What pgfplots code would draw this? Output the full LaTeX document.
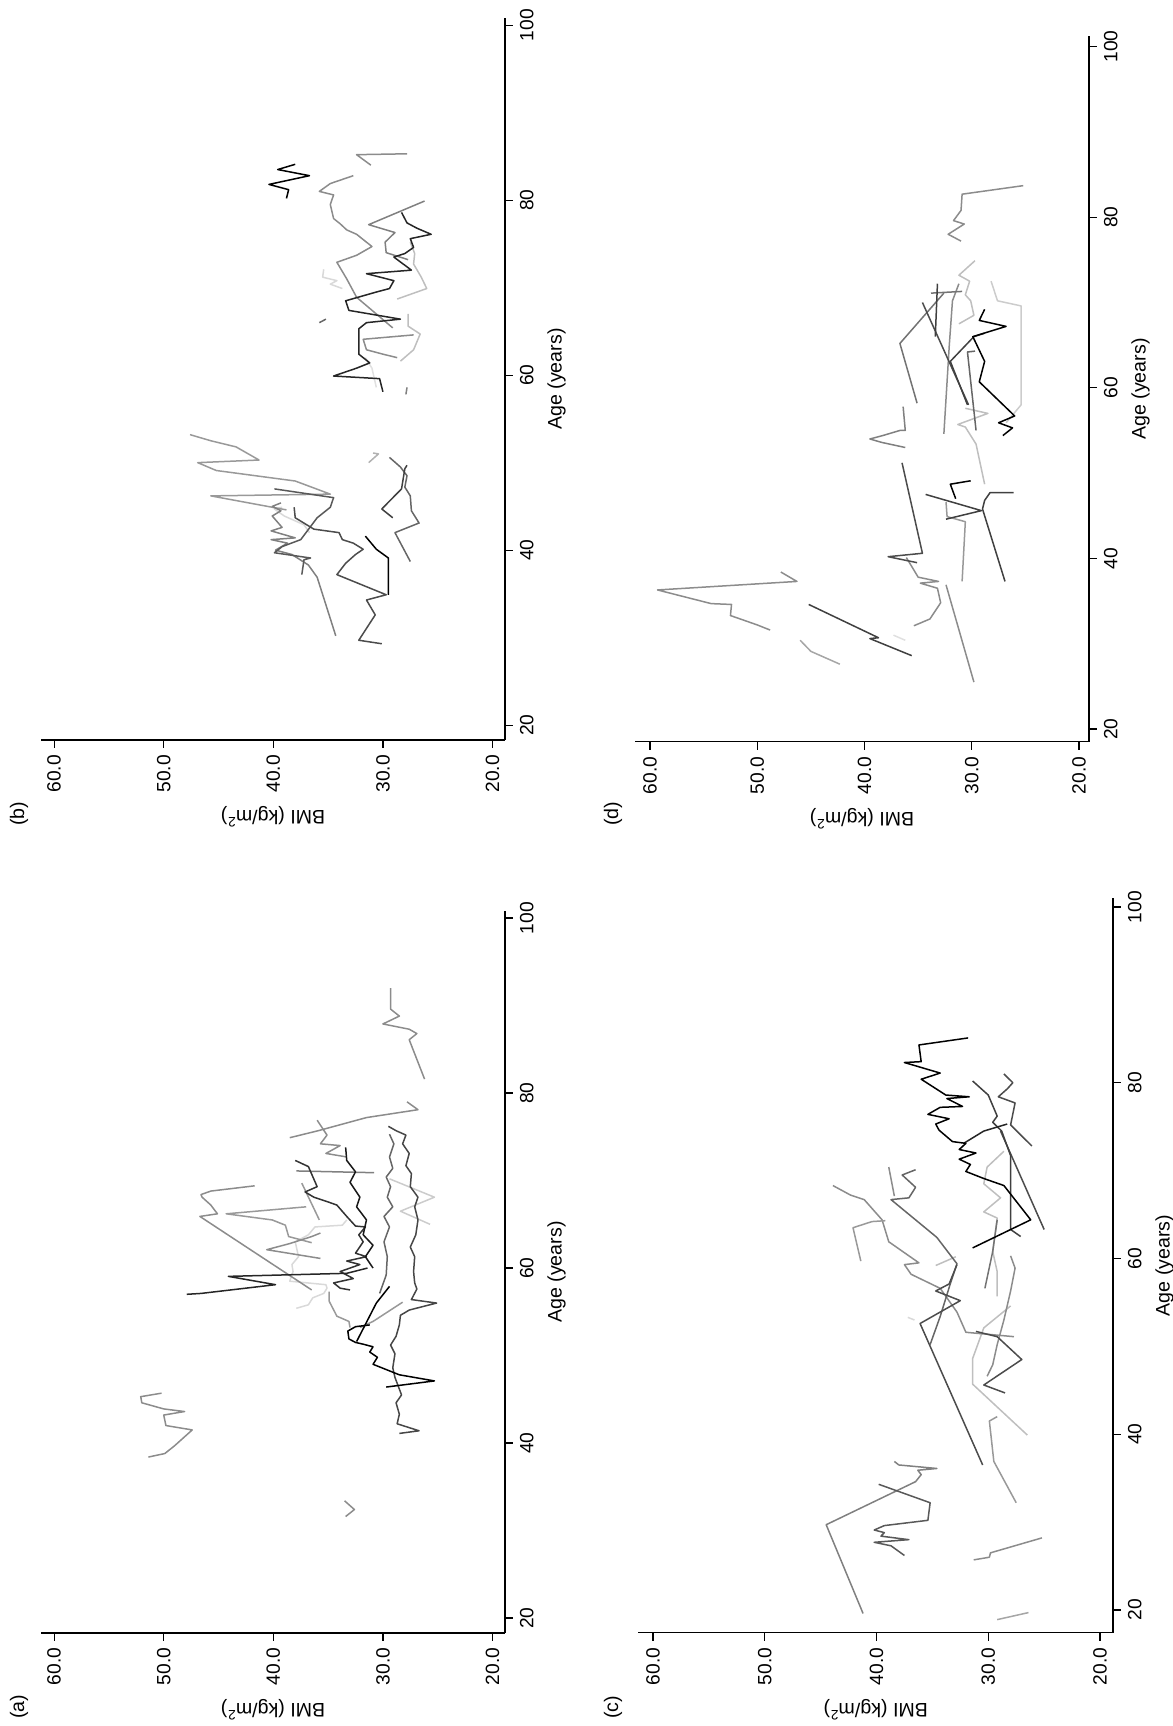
\documentclass[border=0pt]{standalone}
\usepackage{graphicx}
\usepackage{fontspec}
\setmainfont{Liberation Sans}
\usepackage{pgfplots}
\pgfplotsset{compat=1.18}

% One spaghetti panel: BMI trajectories against age
\pgfplotsset{
  panel/.style={
    scale only axis,
    axis x line*=bottom, axis y line*=left,
    axis line style={-, line width=0.6pt},
    xtick={20,40,60,80,100}, ytick={20,30,40,50,60},
    tick align=outside, major tick length=4pt,
    tick style={line width=0.6pt, black},
    /pgf/number format/assume math mode=true,
    tick label style={font=\fontsize{9.6}{11}\selectfont},
    label style={font=\fontsize{9.8}{11}\selectfont},
    yticklabel={\pgfmathprintnumber[fixed,fixed zerofill,precision=1]{\tick}},
    xticklabel={\pgfmathprintnumber{\tick}},
    yticklabel style={rotate=0},
    xlabel={Age (years)}, ylabel={BMI (kg/m\textsuperscript{2})},
    every axis plot/.append style={line width=0.75pt, no markers, line join=round},
  },
}

\begin{document}
\rotatebox{90}{%
\begin{tikzpicture}
\useasboundingbox (0,0) rectangle (863pt,586.5pt);

% ---------------- (a) ----------------
\begin{axis}[panel, at={(46.55pt,334pt)}, anchor=south west,
  width=360.9pt, height=232pt,
  xmin=18.3, xmax=100.8, ymin=18.86, ymax=61.2]
\addplot[black!45] coordinates {(81.6,26.2) (86.1,27.6) (86.8,26.9) (87.3,27.6) (87.9,30.0) (88.8,28.5) (89.6,29.3) (92.0,29.3)};
\addplot[black!45] coordinates {(38.4,51.4) (38.8,49.9) (39.7,49.0) (41.5,47.4) (42.0,49.8) (43.2,50.0) (43.6,48.1) (43.9,50.0) (44.6,52.0) (45.3,52.1) (45.7,50.2)};
\addplot[black!45] coordinates {(31.6,33.4) (32.4,32.6) (33.4,33.5)};
\addplot[black!15] coordinates {(55.4,37.9) (55.8,36.8) (56.6,36.4) (57.1,35.4) (57.7,35.1) (58.1,35.2) (58.5,38.5) (59.6,38.2) (60.4,38.3) (61.3,37.7) (63.0,38.0) (63.8,36.8) (64.7,36.2) (64.9,33.7) (65.5,33.3)};
\addplot[black!20] coordinates {(65.0,25.7) (66.5,28.4) (68.1,25.3) (70.2,29.4)};
\addplot[black!45] coordinates {(57.5,36.5) (65.9,46.7) (66.2,45.1) (67.2,45.7) (68.1,46.5) (68.4,46.6) (68.8,45.7) (69.4,41.7)};
\addplot[black!40] coordinates {(62.9,36.5) (63.6,38.6) (64.9,38.9) (65.5,40.1) (66.2,44.3) (67.0,37.0)};
\addplot[black!45] coordinates {(61.1,35.7) (62.1,40.6) (62.8,38.5) (63.6,36.5) (64.0,35.7)};
\addplot[black!40] coordinates {(65.5,35.8) (69.7,37.4)};
\addplot[black!50] coordinates {(70.9,30.8) (71.1,37.9)};
\addplot[black!45] coordinates {(74.9,38.5) (75.7,35.9) (77.2,31.5) (78.1,26.8) (79.0,27.8)};
\addplot[black!45] coordinates {(72.7,33.3) (73.1,35.2) (74.0,33.9) (74.2,35.7) (75.2,35.1) (76.9,36.0)};
\addplot[black!40] coordinates {(53.2,33.0) (53.9,33.1) (54.5,34.2) (56.2,34.9) (57.3,34.9)};
\addplot[black!40] coordinates {(53.2,32.1) (53.9,30.9) (56.1,28.2)};
\addplot[black!60] coordinates {(57.1,30.3) (59.2,29.7) (61.3,29.6) (63.0,29.9) (64.7,29.4) (65.9,29.9) (67.0,29.1) (68.1,29.6) (69.3,29.3) (70.4,29.7) (71.4,29.1) (72.7,29.4) (74.2,29.0) (75.3,29.4)};
\addplot[black!72] coordinates {(41.1,28.5) (41.4,26.7) (42.2,28.7) (43.3,28.5) (44.6,28.8) (45.5,28.3) (46.5,28.6) (47.5,28.9) (48.6,29.1) (50.2,28.9) (51.2,29.3) (52.2,28.8) (53.5,28.5) (54.6,28.4) (55.2,27.6) (56.0,25.1) (56.4,27.4) (57.6,26.9) (58.3,27.1) (59.6,27.2) (61.3,27.1) (62.4,27.5) (63.8,27.0) (65.5,26.8) (67.0,27.1) (68.1,26.8) (69.3,27.5) (70.8,27.4) (71.7,27.9) (73.1,27.6) (74.2,28.2) (75.2,27.9) (75.7,28.8) (76.2,29.5)};
\addplot[black!80] coordinates {(57.5,33.0) (57.7,33.9) (58.3,34.5) (58.8,32.7) (59.6,33.9) (60.4,32.1) (60.8,33.3) (61.3,31.5) (61.7,32.5) (63.0,31.8) (63.8,32.2) (64.7,31.6) (64.8,32.5) (65.9,33.3) (67.2,34.2) (67.6,35.1) (68.1,36.3) (68.7,37.1) (69.3,36.0) (71.6,36.8) (72.3,38.0)};
\addplot[black!90] coordinates {(60.0,30.9) (61.3,31.6) (62.6,30.9) (63.8,31.8) (65.5,31.5) (67.0,32.4) (68.1,32.1) (69.8,33.0) (71.0,32.5) (72.3,33.3) (73.8,33.4)};
\addplot[black!85] coordinates {(57.0,47.9) (57.1,46.6) (58.1,39.8) (59.05,44.1) (59.4,33.3) (60.0,31.4)};
\addplot[black] coordinates {(46.4,29.7) (47.1,25.3) (47.8,28.5) (49.0,30.9) (49.8,30.5) (50.4,31.2) (51.0,30.9) (51.3,31.8) (51.5,32.5) (51.9,33.1) (52.8,33.2) (53.3,32.5) (53.5,31.2)};
\addplot[black] coordinates {(51.6,32.4) (56.0,30.6) (57.9,29.4)};
\end{axis}
\node[anchor=west, font=\fontsize{9.8}{11}\selectfont] at (0pt,577pt) {(a)};

% ---------------- (b) ----------------
\begin{axis}[panel, at={(493pt,334pt)}, anchor=south west,
  width=360.9pt, height=232pt,
  xmin=18.3, xmax=100.8, ymin=18.86, ymax=61.2]
\addplot[black!45] coordinates {(84.0,31.1) (85.2,32.4) (85.3,27.8)};
\addplot[black] coordinates {(80.2,38.8) (81.2,38.6) (81.8,40.4) (82.8,36.7) (83.5,39.6) (84.1,38.0)};
\addplot[black!45] coordinates {(65.4,29.1) (68.9,32.4) (71.0,33.3) (72.9,34.2) (73.7,32.4) (74.7,31.0) (75.2,31.5) (76.1,32.4) (76.6,33.3) (77.3,33.9) (77.9,34.5) (79.5,34.8) (80.6,34.5) (81.0,35.8) (81.9,34.8) (82.8,32.7)};
\addplot[black!12] coordinates {(58.6,30.6) (60.8,31.0) (62.0,31.6)};
\addplot[black!25] coordinates {(68.7,28.7) (69.9,26.0) (71.2,26.5) (72.7,27.2) (73.9,27.1) (75.2,27.5)};
\addplot[black!15] coordinates {(69.9,33.7) (70.4,34.8) (70.8,34.2) (71.2,35.5) (72.1,35.4)};
\addplot[black!25] coordinates {(61.6,28.4) (62.9,27.2) (64.7,26.6) (65.6,27.7) (67.0,27.7)};
\addplot[black!45] coordinates {(62.0,28.7) (62.4,30.0) (62.9,31.5) (64.1,31.8) (64.6,27.2)};
\addplot[black!50] coordinates {(73.2,27.7) (74.0,29.7) (75.2,29.8) (76.3,28.9) (77.2,31.3) (79.9,26.2)};
\addplot[black!60] coordinates {(66.0,35.8) (66.4,35.2)};
\addplot[black!50] coordinates {(57.8,27.9) (58.6,27.8)};
\addplot[black!85] coordinates {(58.1,30.0) (59.6,30.3) (59.9,34.5) (60.8,32.4) (61.4,31.2) (62.4,32.2) (65.3,32.2) (66.0,31.5) (66.4,28.4) (67.4,33.1) (68.5,33.4) (69.5,30.6) (69.9,29.4) (70.8,29.0) (71.6,31.5) (72.0,27.4) (73.5,29.0) (73.9,28.0) (74.6,27.2) (75.6,27.5) (76.1,25.6) (76.8,26.9) (77.4,27.8) (78.6,28.3)};
\addplot[black!15] coordinates {(42.0,36.7) (42.9,37.2) (43.9,39.0) (44.7,39.9) (44.9,39.2)};
\addplot[black!40] coordinates {(44.6,38.8) (46.2,45.7) (46.4,34.8) (47.9,38.0) (49.1,45.2) (50.0,46.9) (50.3,41.3) (51.8,43.4) (52.5,45.7) (53.2,47.6)};
\addplot[black!50] coordinates {(30.2,34.3) (36.9,36.0) (38.3,36.8) (39.5,38.3) (40.0,39.8) (40.8,38.7) (41.2,40.2) (41.4,38.0) (42.2,40.2) (42.6,39.2) (43.9,40.1) (44.5,39.3) (45.0,40.1) (45.4,39.3)};
\addplot[black!65] coordinates {(37.2,37.4) (38.9,37.2) (39.1,36.6) (39.7,39.9) (40.4,39.2) (41.2,37.5) (43.7,36.0) (44.9,34.8) (46.0,34.5) (47.0,39.9)};
\addplot[black!70] coordinates {(29.3,30.1) (29.7,32.2) (32.6,30.7) (34.3,31.5) (34.9,29.7) (37.2,34.2) (38.5,33.4) (39.5,32.5) (40.1,31.8) (40.8,32.7) (41.2,33.7) (42.0,34.0) (42.4,36.3) (43.7,38.0) (44.9,38.1)};
\addplot[black] coordinates {(34.9,29.5) (39.1,29.5) (40.1,30.6) (41.6,31.6)};
\addplot[black!60] coordinates {(38.7,27.5) (42.0,28.9) (43.1,26.7) (44.5,27.4) (46.2,27.5) (47.2,28.0) (48.5,27.8) (49.5,28.4) (50.6,29.4)};
\addplot[black!75] coordinates {(43.7,29.1) (44.7,30.1) (45.6,29.4) (47.0,28.3) (49.3,28.0) (49.7,27.8)};
\addplot[black!30] coordinates {(50.0,31.3) (51.0,30.4) (51.1,30.9)};
\end{axis}
\node[anchor=west, font=\fontsize{9.8}{11}\selectfont] at (446.5pt,577pt) {(b)};

% ---------------- (c) ----------------
\begin{axis}[panel, at={(46.6pt,30pt)}, anchor=south west,
  width=367.3pt, height=237.3pt,
  xmin=17.4, xmax=101, ymin=18.84, ymax=61.3]
\addplot[black!35] coordinates {(18.9,29.2) (19.7,26.4)};
\addplot[black!15] coordinates {(53.0,36.6) (53.3,37.2)};
\addplot[black!25] coordinates {(59.2,34.7) (60.2,32.9)};
\addplot[black!25] coordinates {(39.9,26.5) (45.7,31.4) (48.6,31.4) (52.1,30.4) (54.6,28.0)};
\addplot[black!25] coordinates {(55.7,29.2) (58.5,29.2) (60.8,29.6) (64.6,29.2) (65.3,30.4) (66.9,28.9) (68.5,30.4) (70.4,30.1) (72.2,28.6)};
\addplot[black!40] coordinates {(32.2,27.5) (36.9,29.5) (41.5,29.9) (42.0,29.2)};
\addplot[black!45] coordinates {(46.6,30.1) (47.9,29.6) (50.2,29.2) (53.0,28.6) (56.3,28.0) (58.9,27.6) (60.3,28.0)};
\addplot[black!45] coordinates {(51.1,27.7) (51.6,32.0) (53.9,32.8) (56.6,34.3) (58.2,36.9) (59.3,37.5) (59.5,36.2) (61.9,38.9) (64.4,39.5) (66.7,41.1) (67.2,42.3) (68.3,43.9)};
\addplot[black!40] coordinates {(59.7,41.4) (63.5,42.1) (64.2,40.4) (64.3,39.2)};
\addplot[black!45] coordinates {(67.1,38.4) (70.4,38.9)};
\addplot[black!45] coordinates {(25.7,31.3) (26.0,29.9) (26.5,29.8) (28.2,25.2)};
\addplot[black!50] coordinates {(19.6,41.2) (29.7,44.5) (34.6,36.5) (35.4,36.0) (35.9,36.3) (36.1,34.6) (36.5,38.0) (36.9,38.4)};
\addplot[black!65] coordinates {(26.2,37.5) (27.3,38.7) (27.7,40.2) (28.0,37.1) (28.4,39.6) (28.8,39.3) (29.1,40.2) (29.6,39.3) (30.2,35.4) (32.2,35.2) (34.3,39.8)};
\addplot[black!55] coordinates {(56.6,30.3) (60.8,29.6) (64.4,29.2)};
\addplot[black!60] coordinates {(50.2,35.2) (53.4,34.3) (57.1,33.4) (59.4,32.8) (62.4,34.6) (66.7,38.7) (66.9,37.1) (68.1,36.5) (69.5,37.7) (70.1,36.5)};
\addplot[black!70] coordinates {(36.5,30.5) (52.6,36.1) (55.2,32.5) (56.3,34.7) (57.1,33.5) (59.3,32.8)};
\addplot[black!70] coordinates {(44.7,28.5) (45.6,30.4) (48.5,27.0) (51.1,29.2) (51.7,31.1)};
\addplot[black!70] coordinates {(63.3,25.0) (74.5,28.9)};
\addplot[black!70] coordinates {(72.8,26.1) (75.2,28.0) (77.7,27.6) (78.4,29.1) (79.3,28.3) (80.0,27.8) (81.0,28.6)};
\addplot[black!75] coordinates {(62.5,27.1) (63.3,28.0) (71.7,28.0) (74.5,28.8) (75.5,29.6) (76.2,29.2) (78.6,30.0) (80.2,31.4)};
\addplot[black!85] coordinates {(73.1,32.2) (74.5,30.4) (75.3,28.3)};
\addplot[black] coordinates {(61.2,31.4) (64.4,26.2) (68.3,28.6) (69.1,30.4) (69.9,32.0) (70.7,31.6) (71.3,32.6) (72.0,31.1) (72.4,32.6) (73.1,32.0) (73.3,33.2) (74.6,34.4) (75.3,34.7) (75.9,33.5) (76.4,35.4) (77.2,34.3) (77.3,32.3) (78.2,33.7) (78.4,31.7) (78.6,33.8) (80.4,36.0) (81.1,34.3) (82.3,37.5) (82.4,36.0) (84.3,36.2) (85.1,31.8)};
\end{axis}
\node[anchor=west, font=\fontsize{9.8}{11}\selectfont] at (0pt,280pt) {(c)};

% ---------------- (d) ----------------
\begin{axis}[panel, at={(492.1pt,42pt)}, anchor=south west,
  width=352.7pt, height=227pt,
  xmin=18.5, xmax=101.2, ymin=19.07, ymax=61.4]
\addplot[black!12] coordinates {(30.4,36.2) (31.0,37.3)};
\addplot[black!20] coordinates {(55.9,26.8) (58.0,25.4) (69.6,25.4) (70.2,27.6) (72.5,28.2)};
\addplot[black!25] coordinates {(67.5,31.2) (68.5,29.8) (70.2,30.1) (70.9,30.6) (72.5,30.2) (73.2,31.2) (74.9,29.7)};
\addplot[black!25] coordinates {(48.7,28.8) (53.4,29.6) (55.4,30.6) (55.7,31.3) (57.0,28.5) (57.6,30.6)};
\addplot[black!45] coordinates {(77.2,31.0) (78.0,32.2) (79.2,30.7) (79.6,31.7) (80.8,31.0) (82.7,30.9) (83.7,25.2)};
\addplot[black!35] coordinates {(27.6,42.3) (29.1,45.0) (30.4,46.0)};
\addplot[black!45] coordinates {(31.6,48.8) (32.2,50.0) (33.3,52.5) (34.6,52.4) (34.7,54.3) (36.3,59.3) (37.3,46.3) (38.4,47.8)};
\addplot[black!45] coordinates {(25.5,29.8) (36.9,32.4)};
\addplot[black!45] coordinates {(32.1,35.4) (32.9,33.9) (34.8,32.9) (36.5,33.2) (37.1,34.8) (37.3,33.1) (37.8,35.0) (40.1,36.1)};
\addplot[black!40] coordinates {(37.3,30.9) (44.3,30.6) (44.9,32.3) (46.6,32.4)};
\addplot[black!50] coordinates {(53.0,36.2) (53.6,38.4) (54.0,39.5) (54.4,38.3) (55.0,36.7) (55.0,36.2) (57.8,36.4)};
\addplot[black!45] coordinates {(54.6,32.6) (64.9,32.1) (70.2,31.8) (72.2,31.2)};
\addplot[black!55] coordinates {(58.2,35.1) (65.2,36.7) (71.1,32.6)};
\addplot[black!55] coordinates {(71.1,33.8) (71.3,30.9)};
\addplot[black!60] coordinates {(55.0,29.6) (64.2,30.4) (64.3,29.7)};
\addplot[black!70] coordinates {(58.0,30.3) (70.0,34.6)};
\addplot[black!75] coordinates {(58.0,30.4) (63.1,32.0) (66.0,29.8) (66.4,28.8)};
\addplot[black!75] coordinates {(66.0,33.4) (72.2,33.2)};
\addplot[black!70] coordinates {(39.5,35.1) (40.2,37.8) (40.6,34.6) (51.2,36.5)};
\addplot[black!75] coordinates {(28.6,35.6) (30.6,39.5) (30.7,38.7) (34.6,45.2)};
\addplot[black!75] coordinates {(37.3,26.9) (45.8,29.0) (46.8,28.8) (47.7,28.3) (47.7,26.1)};
\addplot[black!75] coordinates {(44.6,32.4) (45.6,29.1) (47.5,34.3)};
\addplot[black] coordinates {(47.0,31.5) (48.7,32.0) (49.1,30.1)};
\addplot[black] coordinates {(54.4,27.1) (55.3,26.2) (55.9,27.5) (56.7,26.0) (60.7,29.3) (63.1,28.8) (66.0,29.9) (67.2,26.8) (67.9,29.3) (69.2,28.8)};
\end{axis}
\node[anchor=west, font=\fontsize{9.8}{11}\selectfont] at (446.5pt,280pt) {(d)};
\end{tikzpicture}}
\end{document}
